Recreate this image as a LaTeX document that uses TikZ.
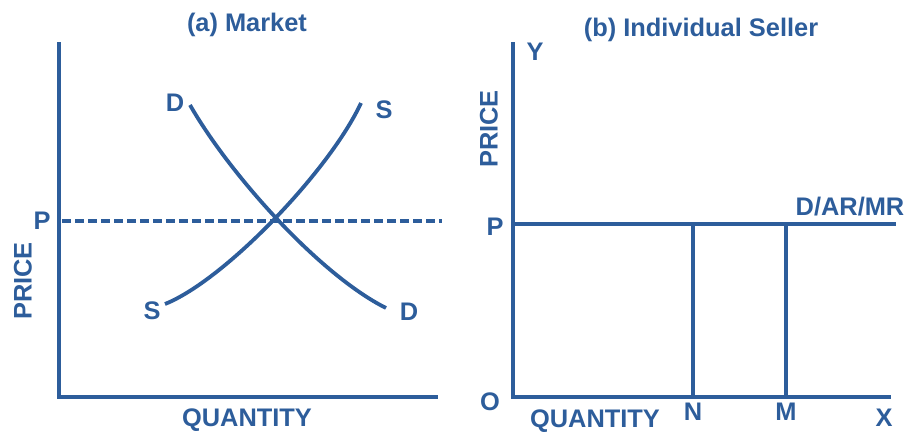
\documentclass[tikz,border=0pt]{standalone}
\usepackage{fontspec}
\setmainfont{Liberation Sans}
\usepackage{tikz}
\usetikzlibrary{positioning}
\usetikzlibrary{calc}

\definecolor{econblue}{HTML}{2D5D9B}

\begin{document}
\begin{tikzpicture}[
    x=0.5pt, y=-0.5pt,
    every node/.style={font=\bfseries\fontsize{12.7}{14}\selectfont, text=econblue, inner sep=0pt},
    axis/.style={draw=econblue, line width=2.3pt},
    curve/.style={draw=econblue, line width=1.9pt},
    level/.style={draw=econblue, line width=1.8pt, dash pattern=on 4.5pt off 2pt}
]
\useasboundingbox (0,0) rectangle (906,434);

% (a) market
\coordinate (aY) at (59,42);
\coordinate (aO) at (59,397);
\coordinate (aX) at (438,397);
\coordinate (aP) at (62,221);
\coordinate (aPend) at (442,221);
\coordinate (dA) at (190,105);
\coordinate (dB) at (386,308);
\coordinate (sA) at (165,304);
\coordinate (sB) at (361,103);
\node (titleA) at (247,25) {(a) Market};
\node (priceA) at (23,281) [rotate=90] {PRICE};
\node (qtyA) at (247,420) {QUANTITY};
\node (pA) at (42,221) {P};
\node (dTop) at (175,103) {D};
\node (dBot) at (409,312) {D};
\node (sTop) at (384,110) {S};
\node (sBot) at (152,311) {S};
\draw[axis] (aY) -- (aO) -- (aX);
\draw[level] (aP) -- (aPend);
\draw[curve] (dA) .. controls (230,175) and (320,275) .. (dB);
\draw[curve] (sA) .. controls (225,280) and (330,170) .. (sB);

% (b) individual seller
\coordinate (bY) at (513,42);
\coordinate (bO) at (513,397);
\coordinate (bX) at (891,397);
\coordinate (bP) at (513,224);
\coordinate (bPend) at (896,224);
\coordinate (nTop) at (693,224);
\coordinate (nBot) at (693,397);
\coordinate (mTop) at (786,224);
\coordinate (mBot) at (786,397);
\node (titleB) at (701,30) {(b) Individual Seller};
\node (yLbl) at (535,52) {Y};
\node (priceB) at (489,129) [rotate=90] {PRICE};
\node (pB) at (495,227) {P};
\node (oB) at (490,402) {O};
\node (qtyB) at (595,421) {QUANTITY};
\node (nLbl) at (693,412) {N};
\node (mLbl) at (786,412) {M};
\node (xLbl) at (884,418) {X};
\node (arLbl) at (850,207) {D/AR/MR};
\draw[axis] (bY) -- (bO) -- (bX);
\draw[curve] (bP) -- (bPend);
\draw[curve] (nTop) -- (nBot);
\draw[curve] (mTop) -- (mBot);
\end{tikzpicture}
\end{document}
